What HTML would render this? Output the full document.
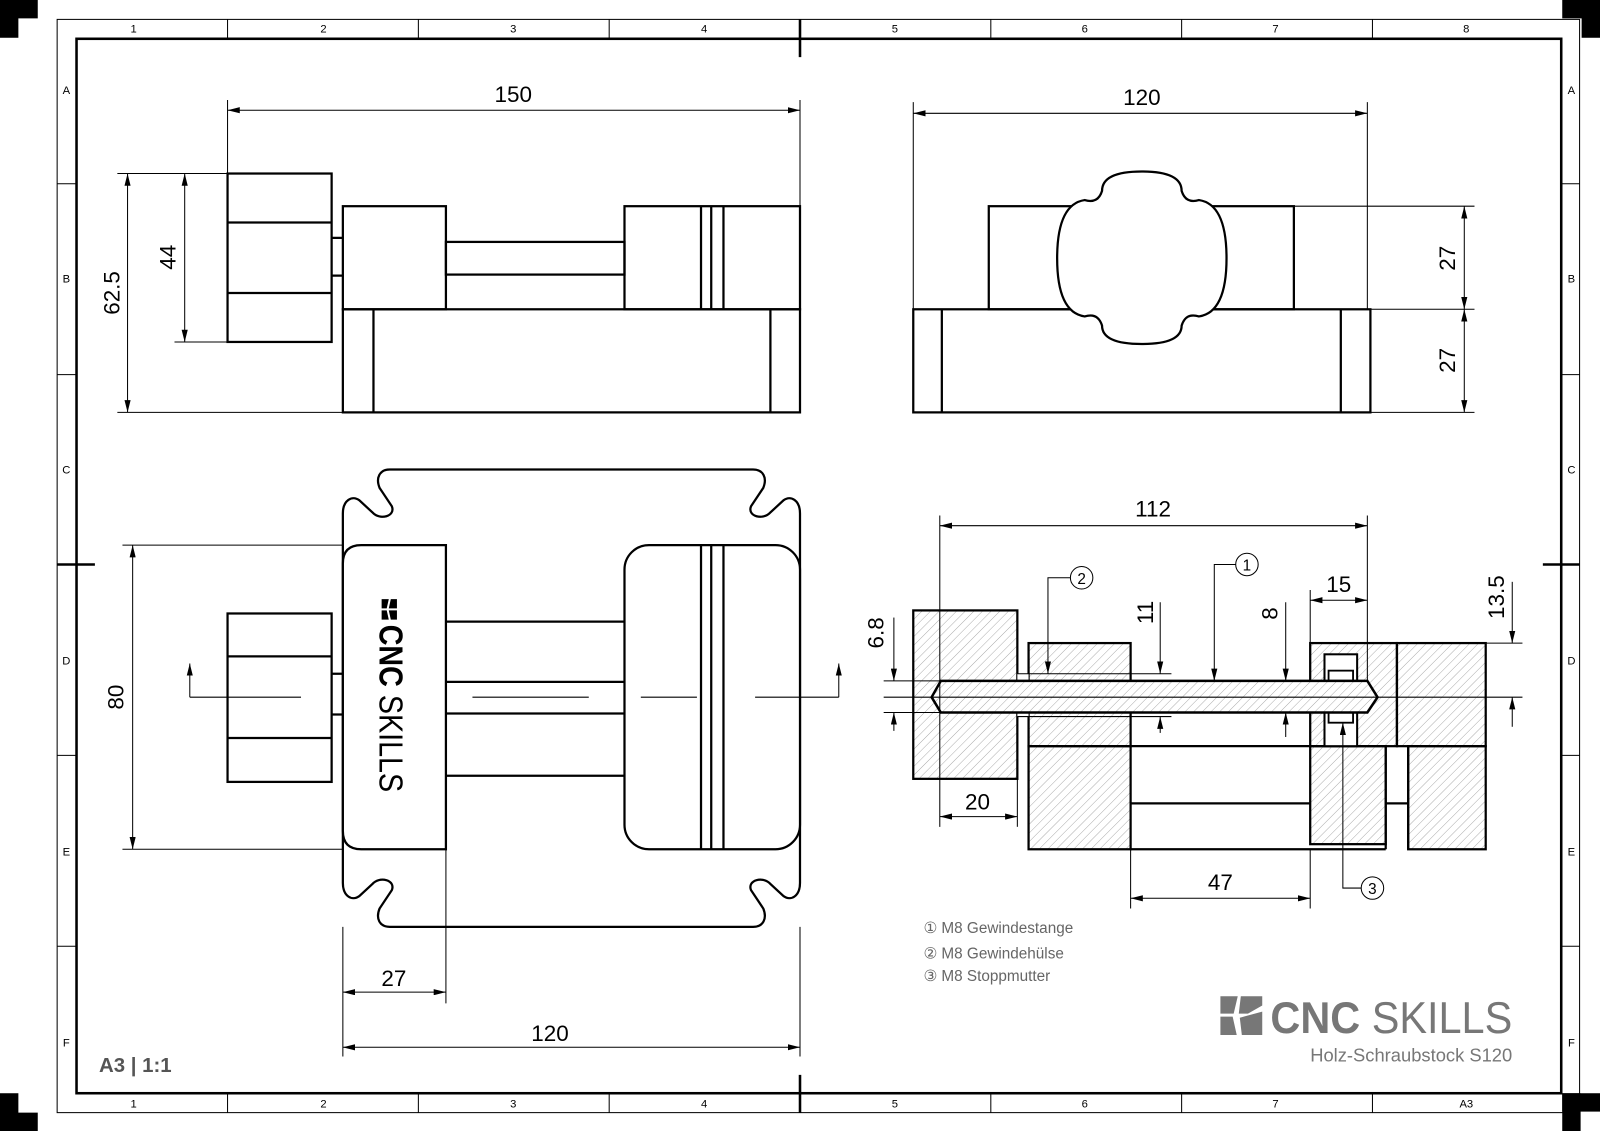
<!DOCTYPE html>
<html><head><meta charset="utf-8"><style>
html,body{margin:0;padding:0;background:#fff}
svg{display:block}
text{font-family:"Liberation Sans",sans-serif}
</style></head><body>
<svg width="1600" height="1131" viewBox="0 0 1568 1108" preserveAspectRatio="none" xmlns="http://www.w3.org/2000/svg">
<defs>
<marker id="a" viewBox="0 0 12 6" refX="12" refY="3" markerWidth="12" markerHeight="6" markerUnits="userSpaceOnUse" orient="auto-start-reverse"><path d="M0,0 L12,3 L0,6 Z" fill="#000"/></marker>
<pattern id="h" width="6" height="6" patternUnits="userSpaceOnUse" patternTransform="rotate(45)"><line x1="0" y1="0" x2="0" y2="6" stroke="#999" stroke-width="0.8"/></pattern>
</defs>
<rect width="1568" height="1108" fill="#fff"/>
<g fill="#000">
<rect x="0" y="0" width="37" height="18"/><rect x="0" y="0" width="18" height="37"/>
<rect x="1531" y="0" width="37" height="18"/><rect x="1550" y="0" width="18" height="37"/>
<rect x="0" y="1090" width="37" height="18"/><rect x="0" y="1071" width="18" height="37"/>
<rect x="1531" y="1071" width="37" height="18"/><rect x="1531" y="1071" width="18" height="37"/>
</g>
<rect x="56" y="19" width="1492" height="1071" fill="none" stroke="#000" stroke-width="1"/>
<rect x="75" y="38" width="1455" height="1033" fill="none" stroke="#000" stroke-width="2.5"/>
<g stroke="#000" stroke-width="1">
<path d="M223,19V38M410,19V38M597,19V38M971,19V38M1158,19V38M1345,19V38"/>
<path d="M223,1071V1090M410,1071V1090M597,1071V1090M971,1071V1090M1158,1071V1090M1345,1071V1090"/>
<path d="M56,180H75M56,367H75M56,740H75M56,927H75"/>
<path d="M1530,180H1548M1530,367H1548M1530,740H1548M1530,927H1548"/>
</g>
<g stroke="#000" stroke-width="2.5">
<path d="M784,19V56M784,1053V1090M56,553H93M1512,553H1548"/>
</g>
<g font-size="11" text-anchor="middle" fill="#000">
<text x="131" y="32">1</text><text x="317" y="32">2</text><text x="503" y="32">3</text><text x="690" y="32">4</text><text x="877" y="32">5</text><text x="1063" y="32">6</text><text x="1250" y="32">7</text><text x="1437" y="32">8</text>
<text x="131" y="1085">1</text><text x="317" y="1085">2</text><text x="503" y="1085">3</text><text x="690" y="1085">4</text><text x="877" y="1085">5</text><text x="1063" y="1085">6</text><text x="1250" y="1085">7</text><text x="1437" y="1085">A3</text>
<text x="65" y="92">A</text><text x="65" y="277">B</text><text x="65" y="464">C</text><text x="65" y="651">D</text><text x="65" y="838">E</text><text x="65" y="1025">F</text>
<text x="1540" y="92">A</text><text x="1540" y="277">B</text><text x="1540" y="464">C</text><text x="1540" y="651">D</text><text x="1540" y="838">E</text><text x="1540" y="1025">F</text>
</g>

<g fill="none" stroke="#000" stroke-width="2.2">
<rect x="223" y="170" width="102" height="165"/>
<path d="M223,218H325M223,287H325"/>
<path d="M325,233H336M325,270H336"/>
<rect x="336" y="202" width="101" height="101"/>
<rect x="437" y="237" width="175" height="32"/>
<rect x="612" y="202" width="172" height="101"/>
<path d="M687,202V303M697,202V303M709,202V303"/>
<rect x="336" y="303" width="448" height="101"/>
<path d="M366,303V404M755,303V404"/>
</g>
<g stroke="#000" stroke-width="1" fill="none">
<path d="M223,98V170M784,98V202"/>
<path d="M223,108H784" marker-start="url(#a)" marker-end="url(#a)"/>
<path d="M115,170H223M115,404H336M171,335H223"/>
<path d="M125,170V404" marker-start="url(#a)" marker-end="url(#a)"/>
<path d="M181,170V335" marker-start="url(#a)" marker-end="url(#a)"/>
</g>
<g font-size="22" fill="#000" text-anchor="middle">
<text x="503" y="100">150</text>
<text transform="translate(117,287) rotate(-90)">62.5</text>
<text transform="translate(172,252) rotate(-90)">44</text>
</g>

<g fill="none" stroke="#000" stroke-width="2.2">
<rect x="895" y="303" width="448" height="101"/>
<path d="M923,303V404M1314,303V404"/>
<rect x="969" y="202" width="299" height="101"/>
<path fill="#fff" d="M1080,187 Q1080,168 1119,168 Q1158,168 1158,187 Q1162,200 1175,196 Q1202,200 1202,253 Q1202,306 1175,310 Q1162,306 1158,319 Q1158,337 1119,337 Q1080,337 1080,319 Q1076,306 1063,310 Q1036,306 1036,253 Q1036,200 1063,196 Q1076,200 1080,187 Z"/>
</g>
<g stroke="#000" stroke-width="1" fill="none">
<path d="M895,100V303M1340,100V303"/>
<path d="M895,111H1340" marker-start="url(#a)" marker-end="url(#a)"/>
<path d="M1268,202H1445M1343,303H1445M1343,404H1445"/>
<path d="M1435,202V303" marker-start="url(#a)" marker-end="url(#a)"/>
<path d="M1435,303V404" marker-start="url(#a)" marker-end="url(#a)"/>
</g>
<g font-size="22" fill="#000" text-anchor="middle">
<text x="1119" y="103">120</text>
<text transform="translate(1426,253) rotate(-90)">27</text>
<text transform="translate(1426,353) rotate(-90)">27</text>
</g>

<g fill="none" stroke="#000" stroke-width="2.2">
<path d="M382,460 L738,460 C748,460 752,468 748,478 L736,496 C732,506 748,510 755,502 L768,490 C775,485 784,490 784,503 L784,865 C784,878 775,883 768,878 L755,866 C748,858 732,862 736,872 L748,890 C752,900 748,908 738,908 L382,908 C372,908 368,900 372,890 L384,872 C388,862 372,858 365,866 L352,878 C345,883 336,878 336,865 L336,503 C336,490 345,485 352,490 L365,502 C372,510 388,506 384,496 L372,478 C368,468 372,460 382,460 Z"/>
<path fill="#fff" d="M437,534 V832 H354 Q336,832 336,814 V552 Q336,534 354,534 Z"/>
<rect x="612" y="534" width="172" height="298" rx="24" fill="#fff"/>
<path d="M687,534V832M697,534V832M709,534V832"/>
<path d="M437,609H612M437,668H612M437,699H612M437,760H612"/>
<rect x="223" y="601" width="102" height="165"/>
<path d="M223,643H325M223,723H325M325,660H336M325,700H336"/>
</g>
<g stroke="#000" stroke-width="1" fill="none">
<path d="M186,683H295M463,683H577M628,683H683M740,683H822"/>
<path d="M186,683V650" marker-end="url(#a)"/>
<path d="M822,683V650" marker-end="url(#a)"/>
<path d="M120,534H336M120,832H336"/>
<path d="M130,534V832" marker-start="url(#a)" marker-end="url(#a)"/>
<path d="M336,908V1035M437,832V983M784,908V1035"/>
<path d="M336,972H437" marker-start="url(#a)" marker-end="url(#a)"/>
<path d="M336,1026H784" marker-start="url(#a)" marker-end="url(#a)"/>
</g>
<g fill="#000">
<path d="M374,587h7l-2,9h-5z M383,587h6v9h-8z M374,598h5l2,9h-7z M381,598h8v9h-6z"/>
</g>
<text transform="translate(372,612) rotate(90)" font-size="33" fill="#000" textLength="164" lengthAdjust="spacingAndGlyphs"><tspan font-weight="bold">CNC</tspan> SKILLS</text>
<g font-size="22" fill="#000" text-anchor="middle">
<text transform="translate(121,683) rotate(-90)">80</text>
<text x="386" y="966">27</text>
<text x="539" y="1020">120</text>
</g>

<g stroke="#000" stroke-width="2.2" fill="url(#h)">
<rect x="895" y="598" width="102" height="165"/>
<rect x="1008" y="630" width="100" height="101"/>
<rect x="1008" y="731" width="100" height="101"/>
<rect x="1284" y="630" width="85" height="101"/>
<rect x="1369" y="630" width="87" height="101"/>
<rect x="1284" y="731" width="74" height="96"/>
<rect x="1380" y="731" width="76" height="101"/>
</g>
<g stroke="#000" stroke-width="2.2" fill="none">
<path d="M1108,731H1284M1108,787H1284M1108,832H1284M1358,787H1380M1358,731V832M1380,731V832M1284,832H1358"/>
</g>
<rect x="997" y="660" width="11" height="42" fill="#fff"/>
<rect x="1298" y="641" width="32" height="90" fill="#fff" stroke="#000" stroke-width="2"/>
<rect x="1302" y="657" width="24" height="10" fill="#fff" stroke="#000" stroke-width="1.8"/>
<rect x="1302" y="698" width="24" height="10" fill="#fff" stroke="#000" stroke-width="1.8"/>
<path d="M922,667 H1340 L1350,683 L1340,698 H922 L913,683 Z" fill="#fff" stroke="none"/>
<path d="M922,667 H1340 L1350,683 L1340,698 H922 L913,683 Z" fill="url(#h)" stroke="#000" stroke-width="2.5"/>
<g stroke="#000" stroke-width="1" fill="none">
<path d="M997,660H1148M997,702H1148"/>
<path d="M866,683H1492"/>
<path d="M921,505V810M1340,505V667"/>
<path d="M921,515H1340" marker-start="url(#a)" marker-end="url(#a)"/>
<path d="M997,763V810"/>
<path d="M921,800H997" marker-start="url(#a)" marker-end="url(#a)"/>
<path d="M1108,832V890M1284,832V890"/>
<path d="M1108,880H1284" marker-start="url(#a)" marker-end="url(#a)"/>
<path d="M1284,578V630"/>
<path d="M1284,588H1340" marker-start="url(#a)" marker-end="url(#a)"/>
<path d="M1456,630H1492"/>
<path d="M1482,570V630" marker-end="url(#a)"/>
<path d="M1482,712V683" marker-end="url(#a)"/>
<path d="M866,667H922M866,698H922"/>
<path d="M876,605V667" marker-end="url(#a)"/>
<path d="M876,716V698" marker-end="url(#a)"/>
<path d="M1137,590V660" marker-end="url(#a)"/>
<path d="M1137,718V702" marker-end="url(#a)"/>
<path d="M1260,590V667" marker-end="url(#a)"/>
<path d="M1260,722V698" marker-end="url(#a)"/>
<path d="M1211,553H1190V667" marker-end="url(#a)"/>
<circle cx="1222" cy="553" r="11"/>
<path d="M1049,566H1027V660" marker-end="url(#a)"/>
<circle cx="1060" cy="566" r="11"/>
<path d="M1334,870H1316V708" marker-end="url(#a)"/>
<circle cx="1345" cy="870" r="11"/>
</g>
<g font-size="15" fill="#000" text-anchor="middle">
<text x="1222" y="559">1</text><text x="1060" y="572">2</text><text x="1345" y="876">3</text>
</g>
<g font-size="22" fill="#000" text-anchor="middle">
<text x="1130" y="506">112</text>
<text x="958" y="793">20</text>
<text x="1196" y="872">47</text>
<text x="1312" y="580">15</text>
<text transform="translate(1474,585) rotate(-90)">13.5</text>
<text transform="translate(866,620) rotate(-90)">6.8</text>
<text transform="translate(1130,600) rotate(-90)">11</text>
<text transform="translate(1252,601) rotate(-90)">8</text>
</g>

<g font-size="15" fill="#666">
<text x="905" y="914">① M8 Gewindestange</text>
<text x="905" y="939">② M8 Gewindehülse</text>
<text x="905" y="961">③ M8 Stoppmutter</text>
</g>
<text x="97" y="1050" font-size="20" font-weight="bold" fill="#555">A3 | 1:1</text>
<g fill="#777">
<path d="M1196,976h17l-4,17h-13z M1216,976h21v9l-14,8h-9z M1196,996h12l4,18h-16z M1215,997l22,-6v23h-20z"/>
</g>
<text x="1245" y="1012" font-size="44" fill="#777" textLength="237" lengthAdjust="spacingAndGlyphs"><tspan font-weight="bold">CNC</tspan> SKILLS</text>
<text x="1482" y="1040" font-size="18" fill="#777" text-anchor="end">Holz-Schraubstock S120</text>
</svg>
</body></html>
